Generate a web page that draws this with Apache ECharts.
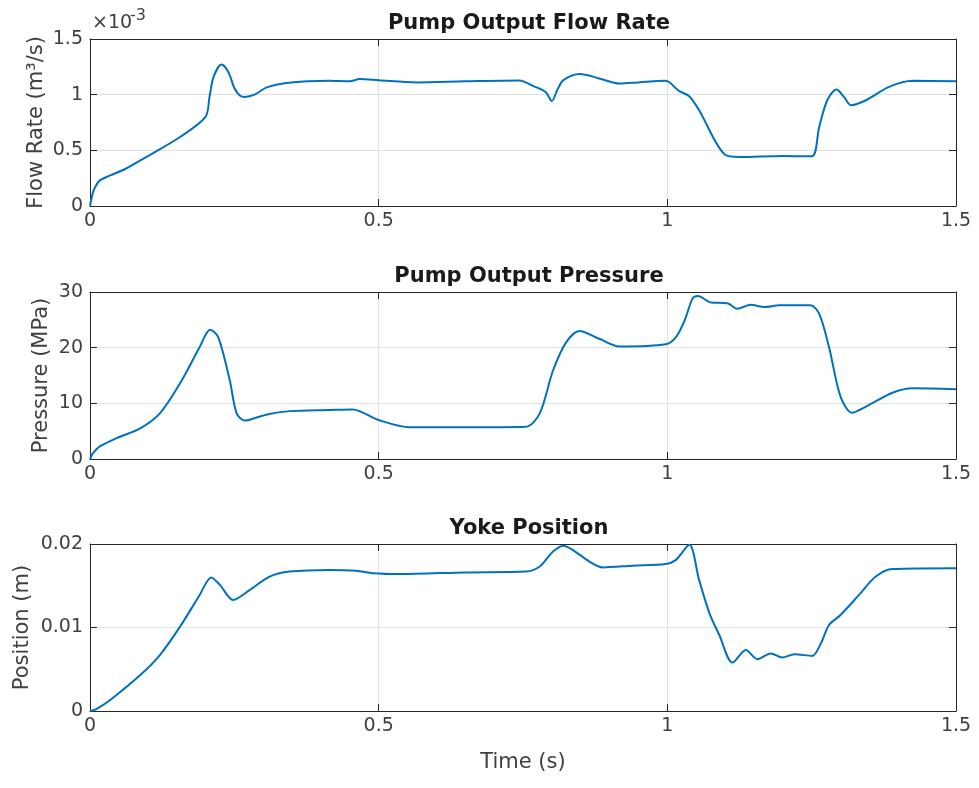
<!DOCTYPE html>
<html>
<head>
<meta charset="utf-8">
<script src="https://cdn.jsdelivr.net/npm/echarts@6/dist/echarts.min.js"></script>
<style>
  html, body { margin: 0; padding: 0; background: #fff; }
  #chart { width: 979px; height: 788px; }
</style>
</head>
<body>
<div id="chart"></div>
<script>
// flow rate, in units of 1e-3 m^3/s
const flowTime = [0, 0.005, 0.01, 0.017, 0.035, 0.06, 0.104, 0.156, 0.2, 0.207, 0.214, 0.228, 0.24, 0.25, 0.26, 0.268, 0.285, 0.306, 0.34, 0.415, 0.45, 0.467, 0.5, 0.565, 0.65, 0.744, 0.768, 0.789, 0.8, 0.81, 0.82, 0.848, 0.882, 0.917, 0.95, 0.997, 1.02, 1.038, 1.055, 1.1, 1.125, 1.2, 1.25, 1.263, 1.277, 1.293, 1.306, 1.318, 1.344, 1.384, 1.425, 1.5];
const flowValues = [0, 0.12, 0.18, 0.23, 0.275, 0.33, 0.46, 0.62, 0.8, 0.98, 1.16, 1.27, 1.2, 1.06, 0.99, 0.98, 1.0, 1.065, 1.105, 1.124, 1.12, 1.14, 1.13, 1.11, 1.12, 1.128, 1.077, 1.025, 0.944, 1.05, 1.13, 1.185, 1.146, 1.1, 1.11, 1.124, 1.034, 0.986, 0.86, 0.46, 0.44, 0.45, 0.446, 0.71, 0.95, 1.047, 0.98, 0.905, 0.95, 1.07, 1.124, 1.12];

// pressure, MPa
const pressTime = [0, 0.005, 0.017, 0.052, 0.087, 0.121, 0.156, 0.19, 0.208, 0.222, 0.242, 0.254, 0.268, 0.29, 0.311, 0.346, 0.415, 0.455, 0.5, 0.554, 0.65, 0.755, 0.779, 0.802, 0.825, 0.848, 0.882, 0.917, 0.997, 1.015, 1.03, 1.044, 1.053, 1.076, 1.104, 1.121, 1.145, 1.168, 1.194, 1.248, 1.263, 1.28, 1.3, 1.32, 1.344, 1.39, 1.425, 1.5];
const pressValues = [0, 1.0, 2.25, 4.0, 5.5, 8.2, 13.6, 20.1, 23.2, 21.9, 14.2, 8.2, 6.9, 7.5, 8.1, 8.6, 8.8, 8.9, 7.0, 5.7, 5.7, 5.8, 8.2, 15.9, 21.0, 23.0, 21.6, 20.2, 20.6, 21.9, 24.9, 28.9, 29.3, 28.1, 28.0, 27.0, 27.7, 27.3, 27.6, 27.6, 26.1, 20.1, 11.2, 8.3, 9.4, 11.9, 12.7, 12.55];

// yoke position, m
const yokeTime = [0, 0.01, 0.035, 0.087, 0.121, 0.156, 0.19, 0.21, 0.225, 0.248, 0.277, 0.311, 0.346, 0.415, 0.461, 0.49, 0.536, 0.651, 0.755, 0.779, 0.802, 0.82, 0.836, 0.865, 0.888, 0.94, 0.997, 1.015, 1.038, 1.055, 1.073, 1.09, 1.113, 1.136, 1.156, 1.179, 1.199, 1.22, 1.251, 1.266, 1.28, 1.3, 1.332, 1.361, 1.39, 1.5];
const yokeValues = [0, 0.0002, 0.00132, 0.0043, 0.0067, 0.0101, 0.0139, 0.016, 0.0151, 0.0133, 0.0145, 0.0161, 0.0167, 0.0169, 0.0168, 0.0165, 0.0164, 0.0166, 0.0167, 0.0173, 0.0191, 0.0198, 0.0193, 0.0179, 0.0172, 0.0174, 0.0176, 0.0181, 0.0199, 0.0157, 0.0117, 0.0091, 0.0058, 0.0073, 0.0062, 0.0069, 0.0064, 0.0068, 0.0066, 0.0081, 0.0103, 0.0115, 0.0139, 0.0161, 0.017, 0.0171];

const titles = ["Pump Output Flow Rate", "Pump Output Pressure", "Yoke Position"];
const yNames = ["Flow Rate (m³/s)", "Pressure (MPa)", "Position (m)"];
const yMax = [1.5, 30, 0.02];
const yStep = [0.5, 10, 0.01];
const xTicks = { min: 0, max: 1.5, interval: 0.5 };

const FONT = "DejaVu Sans";
const AX = "#262626";
const LBL = "#404040";
const tops = [39, 292, 544];
const H = 167;
const nameGaps = [43, 38, 57];

const pairs = (t, v) => t.map((x, i) => [x, v[i]]);
const seriesData = [pairs(flowTime, flowValues), pairs(pressTime, pressValues), pairs(yokeTime, yokeValues)];

const grid = [], xAxis = [], yAxis = [], series = [], title = [];
for (let i = 0; i < 3; i++) {
  grid.push({ left: 90, right: 23, top: tops[i], height: H });
  title.push({
    text: titles[i], left: 524, textAlign: "center", top: tops[i] - 31,
    textStyle: { fontFamily: FONT, fontSize: 21, fontWeight: "bold", color: "#1a1a1a" }
  });
  const line = { show: true, onZero: false, lineStyle: { color: AX, width: 1 } };
  const tick = { show: true, inside: true, length: 7, lineStyle: { color: AX } };
  xAxis.push({
    type: "value", gridIndex: i, position: "bottom", ...xTicks,
    axisLine: line, axisTick: tick,
    axisLabel: { color: LBL, fontFamily: FONT, fontSize: 19, margin: 6 },
    splitLine: { show: true, lineStyle: { color: "#e0e0e0" } },
    name: i === 2 ? "Time (s)" : "", nameLocation: "middle", nameGap: 41,
    nameMoveOverlap: false,
    nameTextStyle: { color: LBL, fontFamily: FONT, fontSize: 21 }
  });
  xAxis.push({
    type: "value", gridIndex: i, position: "top", ...xTicks,
    axisLine: line, axisTick: tick, axisLabel: { show: false }, splitLine: { show: false }
  });
  yAxis.push({
    type: "value", gridIndex: i, position: "left", min: 0, max: yMax[i], interval: yStep[i],
    axisLine: line, axisTick: tick,
    axisLabel: { color: LBL, fontFamily: FONT, fontSize: 19, margin: 7 },
    splitLine: { show: true, lineStyle: { color: "#e0e0e0" } },
    name: yNames[i], nameLocation: "middle", nameGap: nameGaps[i],
    nameMoveOverlap: false,
    nameTextStyle: { color: LBL, fontFamily: FONT, fontSize: 21 }
  });
  yAxis.push({
    type: "value", gridIndex: i, position: "right", min: 0, max: yMax[i], interval: yStep[i],
    axisLine: line, axisTick: tick, axisLabel: { show: false }, splitLine: { show: false }
  });
  series.push({
    type: "line", xAxisIndex: i * 2, yAxisIndex: i * 2, data: seriesData[i],
    showSymbol: false, smooth: 0.3, animation: false,
    lineStyle: { color: "#0072BD", width: 2 }
  });
}

const chart = echarts.init(document.getElementById("chart"));
chart.setOption({
  backgroundColor: "#fff",
  animation: false,
  title, grid, xAxis, yAxis, series,
  graphic: [
    { type: "text", left: 92, top: 14, style: { text: "×10", fill: LBL, font: "19px " + FONT } },
    { type: "text", left: 130, top: 8, style: { text: "-3", fill: LBL, font: "16px " + FONT } }
  ]
});
</script>
</body>
</html>
